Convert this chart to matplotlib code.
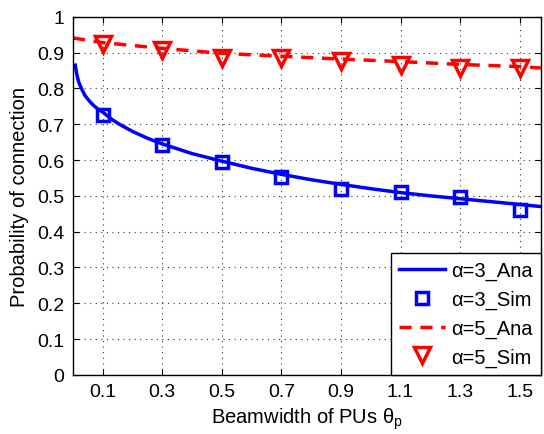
import numpy as np
import matplotlib
matplotlib.use("Agg")
import matplotlib.pyplot as plt

plt.rcParams['font.family'] = ['Liberation Sans', 'DejaVu Sans']

# analytical curves
ana_x = [0.008, 0.012, 0.016, 0.02, 0.029, 0.04, 0.055, 0.07, 0.085, 0.1,
         0.13, 0.156, 0.2, 0.25, 0.3, 0.4, 0.5, 0.6, 0.7, 0.8, 0.9, 1.0, 1.1,
         1.2, 1.3, 1.4, 1.5, 1.5708]
ana3 = [0.865, 0.844, 0.829, 0.817, 0.799, 0.781, 0.765, 0.752, 0.742, 0.734,
        0.714, 0.700, 0.680, 0.661, 0.645, 0.618, 0.597, 0.577, 0.560, 0.545,
        0.532, 0.520, 0.509, 0.500, 0.492, 0.484, 0.476, 0.470]
ana5_x = [0.0, 0.1, 0.3, 0.5, 0.7, 0.9, 1.1, 1.3, 1.5, 1.5708]
ana5 = [0.941, 0.928, 0.912, 0.898, 0.890, 0.882, 0.875, 0.867, 0.861, 0.857]

# simulation points
sim_x = [0.1, 0.3, 0.5, 0.7, 0.9, 1.1, 1.3, 1.5]
sim3 = [0.725, 0.643, 0.595, 0.554, 0.520, 0.512, 0.498, 0.461]
sim5 = [0.923, 0.907, 0.886, 0.884, 0.877, 0.866, 0.858, 0.856]

fig = plt.figure(figsize=(5.44, 4.35), dpi=100)
ax = fig.add_axes([0.134, 0.136, 0.86, 0.823])

ax.plot(ana_x, ana3, color='blue', lw=2.5, label='α=3_Ana')
ax.plot(sim_x, sim3, ls='none', marker='s', ms=9, mfc='none', mec='blue',
        mew=2.5, label='α=3_Sim')
ax.plot(ana5_x, ana5, color='red', lw=2.5, ls=(0, (3.5, 2.5)), label='α=5_Ana')
ax.plot(sim_x, sim5, ls='none', marker='v', ms=12, mfc='none', mec='red',
        mew=2.5, label='α=5_Sim')

ax.set_xlim(0, np.pi / 2)
ax.set_ylim(0, 1)
ax.set_xticks(sim_x)
ax.set_xticklabels([str(v) for v in sim_x])
ax.set_yticks(np.arange(0, 1.01, 0.1))
ax.set_yticklabels(['0', '0.1', '0.2', '0.3', '0.4', '0.5', '0.6', '0.7',
                    '0.8', '0.9', '1'])
ax.tick_params(direction='in', labelsize=14, length=4, top=True, right=True,
               pad=6)
ax.grid(True, ls=(0, (1, 4)), color='black', lw=0.8, alpha=0.8)
for s in ax.spines.values():
    s.set_linewidth(1.0)

ax.set_xlabel('Beamwidth of PUs θ$_\\mathregular{p}$', fontsize=14.5,
              labelpad=4)
ax.set_ylabel('Probability of connection', fontsize=14.5, labelpad=6)

leg = ax.legend(loc='lower right', fontsize=14.5, fancybox=False,
                edgecolor='black', framealpha=1, borderaxespad=0.0,
                handlelength=2.3, handletextpad=0.3, labelspacing=0.48,
                borderpad=0.4)
leg.get_frame().set_linewidth(1.0)

fig.savefig('out.png', dpi=100)
